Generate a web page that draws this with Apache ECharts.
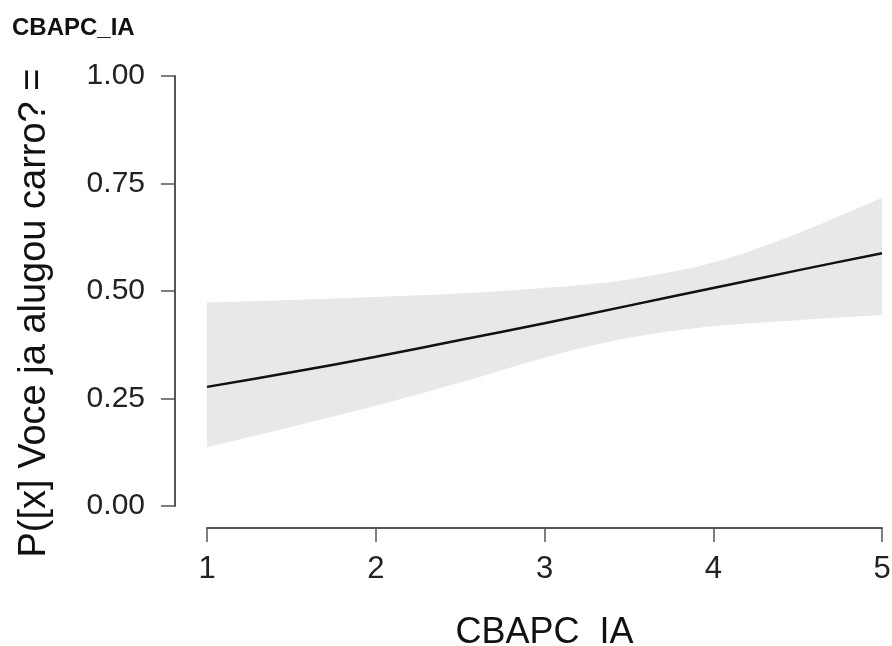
<!DOCTYPE html>
<html>
<head>
<meta charset="utf-8">
<title>CBAPC_IA</title>
<script src="https://cdn.jsdelivr.net/npm/echarts@6/dist/echarts.min.js"></script>
<style>
  html, body { margin: 0; padding: 0; background: #fff; }
  #chart { width: 892px; height: 646px; }
</style>
</head>
<body>
<div id="chart"></div>
<script>
// valores (efeito marginal com intervalo de confiança)
const xVals = [1, 1.5, 2, 2.5, 3, 3.5, 4, 4.5, 5];
const fitVals = [0.277, 0.311, 0.347, 0.386, 0.425, 0.466, 0.507, 0.548, 0.588];
const upperVals = [0.473, 0.479, 0.486, 0.494, 0.507, 0.527, 0.566, 0.634, 0.717];
const lowerVals = [0.137, 0.184, 0.233, 0.287, 0.345, 0.391, 0.418, 0.432, 0.444];
const yTicks = [0, 0.25, 0.5, 0.75, 1];

const fontFam = "'Liberation Sans', Arial, Helvetica, sans-serif";
const chart = echarts.init(document.getElementById("chart"));

const pairs = (ys) => xVals.map((x, i) => [x, ys[i]]);

const option = {
  backgroundColor: "#fff",
  animation: false,
  textStyle: { fontFamily: fontFam },
  title: {
    text: "CBAPC_IA",
    left: 12,
    top: 16,
    padding: 0,
    textStyle: { fontSize: 24, fontWeight: "bold", color: "#111", fontFamily: fontFam },
  },
  grid: { left: 207, right: 10, top: 76, bottom: 140, outerBoundsMode: "none" },
  xAxis: {
    type: "value",
    min: 1,
    max: 5,
    interval: 1,
    offset: 22,
    name: "CBAPC_IA",
    nameLocation: "middle",
    nameGap: 87,
    nameTextStyle: { fontSize: 36, color: "#111", fontFamily: fontFam },
    axisLine: { show: true, onZero: false, lineStyle: { color: "#555", width: 2 } },
    axisTick: { show: true, length: 14, lineStyle: { color: "#555", width: 1.5 } },
    axisLabel: { fontSize: 31, color: "#222", margin: 26, fontFamily: fontFam },
    splitLine: { show: false },
  },
  yAxis: {
    type: "value",
    min: yTicks[0],
    max: yTicks[yTicks.length - 1],
    interval: 0.25,
    offset: 32,
    axisLine: { show: true, onZero: false, lineStyle: { color: "#555", width: 2 } },
    axisTick: { show: true, length: 14, lineStyle: { color: "#555", width: 1.5 } },
    axisLabel: {
      fontSize: 30,
      color: "#222",
      margin: 30,
      fontFamily: fontFam,
      formatter: (v) => v.toFixed(2),
    },
    splitLine: { show: false },
  },
  graphic: [
    {
      type: "text",
      x: 35,
      y: 313,
      rotation: Math.PI / 2,
      style: {
        text: "P([x] Voce ja alugou carro? =",
        fontSize: 38,
        fontFamily: fontFam,
        fill: "#111",
        textAlign: "center",
        textVerticalAlign: "middle",
      },
    },
  ],
  series: [
    {
      // limite superior: área cinza até o eixo
      name: "upper",
      type: "line",
      data: pairs(upperVals),
      smooth: 0.3,
      symbol: "none",
      lineStyle: { opacity: 0 },
      areaStyle: { color: "#e8e8e8", opacity: 1, origin: "start" },
      silent: true,
      z: 1,
    },
    {
      // limite inferior: cobre de branco abaixo da faixa
      name: "lower",
      type: "line",
      data: pairs(lowerVals),
      smooth: 0.3,
      symbol: "none",
      lineStyle: { opacity: 0 },
      areaStyle: { color: "#fff", opacity: 1, origin: "start" },
      silent: true,
      z: 2,
    },
    {
      name: "fit",
      type: "line",
      data: pairs(fitVals),
      smooth: 0.3,
      symbol: "none",
      lineStyle: { color: "#111", width: 2.5 },
      z: 5,
    },
  ],
};

chart.setOption(option);
</script>
</body>
</html>
